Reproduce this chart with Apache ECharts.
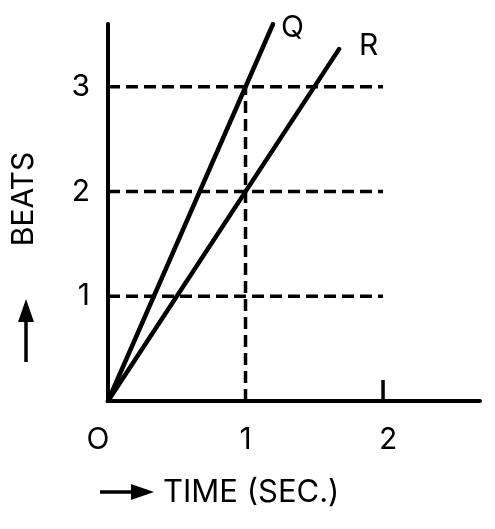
<!DOCTYPE html>
<html>
<head>
<meta charset="utf-8">
<script src="https://cdn.jsdelivr.net/npm/echarts@6/dist/echarts.min.js"></script>
<style>
    html, body { margin: 0; padding: 0; background: #fff; }
    #chart { width: 495px; height: 529px; }
</style>
</head>
<body>
<div id="chart"></div>
<script>
// line ends
var qLine = [[0, 0], [1.2, 3.6]];
var rLine = [[0, 0], [1.68, 3.36]];
var beatLevels = [1, 2, 3];
var dashEndX = 2;
var markX = 1;
var tickX = 2;
var tickHeight = 0.2;
var xMax = 2.705;
var yMax = 3.6;
var xTicks = ["O", "1", "2"];
var yTicks = ["", "1", "2", "3"];

var fontName = "Inter, 'Noto Sans', sans-serif";

var myChart = echarts.init(document.getElementById('chart'));

var series = [];

// horizontal dashed guides
beatLevels.forEach(function (level) {
    series.push({
        type: 'line',
        data: [[0, level], [dashEndX, level]],
        symbol: 'none',
        silent: true,
        lineStyle: { color: '#000', width: 3.5, type: [12, 6] }
    });
});

// vertical dashed guide at 1 s
series.push({
    type: 'line',
    data: [[markX, 0], [markX, beatLevels[beatLevels.length - 1]]],
    symbol: 'none',
    silent: true,
    lineStyle: { color: '#000', width: 3.5, type: [12, 6] }
});

// small tick at 2 s
series.push({
    type: 'line',
    data: [[tickX, 0], [tickX, tickHeight]],
    symbol: 'none',
    silent: true,
    lineStyle: { color: '#000', width: 3.5 }
});

series.push({
    name: 'Q',
    type: 'line',
    data: qLine,
    symbol: 'none',
    lineStyle: { color: '#000', width: 4.5, cap: 'round' },
    endLabel: {
        show: true,
        formatter: '{a}',
        color: '#000',
        fontFamily: fontName,
        fontSize: 30,
        offset: [0, 4]
    }
});

series.push({
    name: 'R',
    type: 'line',
    data: rLine,
    symbol: 'none',
    lineStyle: { color: '#000', width: 4.5, cap: 'round' },
    endLabel: {
        show: true,
        formatter: '{a}',
        color: '#000',
        fontFamily: fontName,
        fontSize: 30,
        offset: [12, -3]
    }
});

var option = {
    animation: false,
    backgroundColor: '#fff',
    grid: { left: 108, right: 15, top: 24, bottom: 128 },
    xAxis: {
        type: 'value',
        min: 0,
        max: xMax,
        interval: 1,
        splitLine: { show: false },
        axisTick: { show: false },
        axisLine: { lineStyle: { color: '#000', width: 4 } },
        axisLabel: {
            margin: 24,
            color: '#000',
            fontFamily: fontName,
            fontSize: 30,
            showMaxLabel: false,
            formatter: function (v) {
                var t = xTicks[Math.round(v)];
                if (v === 0) return '{o|' + t + '}';
                if (v === 2) return '{t|' + t + '}';
                return t;
            },
            rich: {
                o: { fontFamily: fontName, fontSize: 30, color: '#000', padding: [0, 20, 0, 0] },
                t: { fontFamily: fontName, fontSize: 30, color: '#000', padding: [0, 0, 0, 10] }
            }
        }
    },
    yAxis: {
        type: 'value',
        min: 0,
        max: yMax,
        interval: 1,
        splitLine: { show: false },
        axisTick: { show: false },
        axisLine: { lineStyle: { color: '#000', width: 4 } },
        axisLabel: {
            margin: 18,
            color: '#000',
            fontFamily: fontName,
            fontSize: 30,
            showMaxLabel: false,
            formatter: function (v) {
                return yTicks[Math.round(v)] || '';
            }
        }
    },
    graphic: [
        {
            type: 'text',
            x: 24,
            y: 199,
            rotation: Math.PI / 2,
            style: {
                text: 'BEATS',
                fill: '#000',
                font: '30px ' + fontName,
                align: 'center',
                verticalAlign: 'middle'
            }
        },
        {
            type: 'line',
            shape: { x1: 26, y1: 362, x2: 26, y2: 318 },
            style: { stroke: '#000', lineWidth: 3.5 }
        },
        {
            type: 'polygon',
            shape: { points: [[26, 299], [18, 322], [34, 322]] },
            style: { fill: '#000' }
        },
        {
            type: 'line',
            shape: { x1: 100, y1: 492, x2: 136, y2: 492 },
            style: { stroke: '#000', lineWidth: 3.5 }
        },
        {
            type: 'polygon',
            shape: { points: [[154, 492], [131, 484], [131, 500]] },
            style: { fill: '#000' }
        },
        {
            type: 'text',
            x: 163,
            y: 493,
            style: {
                text: 'TIME (SEC.)',
                fill: '#000',
                font: '31px ' + fontName,
                align: 'left',
                verticalAlign: 'middle'
            }
        }
    ],
    series: series
};

myChart.setOption(option);
</script>
</body>
</html>
